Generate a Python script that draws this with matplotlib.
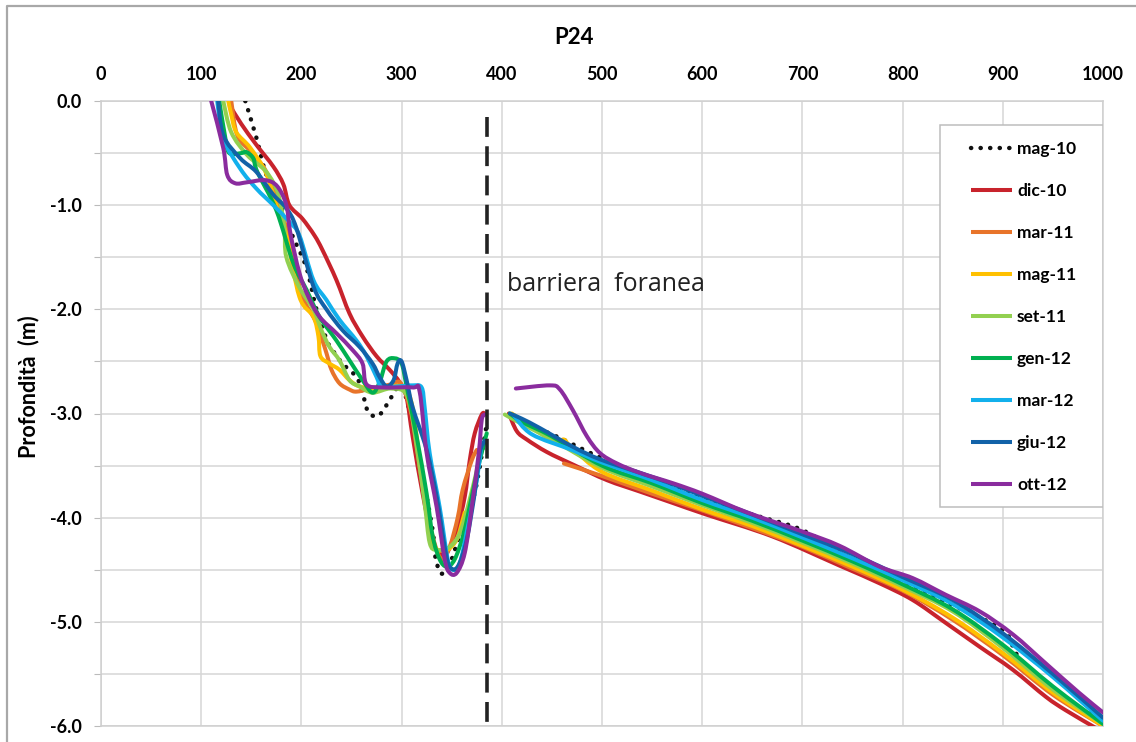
import numpy as np
import matplotlib
matplotlib.use("Agg")
import matplotlib.pyplot as plt
from matplotlib.patches import Rectangle, PathPatch
from matplotlib.lines import Line2D
from matplotlib.path import Path

plt.rcParams["font.family"] = ["Lato", "DejaVu Sans"]

# profili (distanza m, profondita m) - tratto a terra / tratto oltre la barriera
labels = ["mag-10", "dic-10", "mar-11", "mag-11", "set-11", "gen-12", "mar-12", "giu-12", "ott-12"]
colors = ["#111111", "#C8232C", "#E8742A", "#FFC000", "#92D050", "#00B050", "#12B0EC", "#1262A8", "#8A2C9E"]

mag10_x = [144, 155, 164, 175, 190, 205, 215, 226, 231, 241, 255, 261, 266, 274, 281, 290, 300, 311, 321, 331, 333, 338, 343, 350, 360, 373, 385]
mag10_y = [0.0, -0.35, -0.68, -0.9, -1.27, -1.6, -2.0, -2.31, -2.39, -2.52, -2.65, -2.8, -2.97, -3.03, -2.98, -2.84, -2.74, -3.1, -3.6, -4.12, -4.34, -4.52, -4.52, -4.4, -4.1, -3.76, -3.1]
mag10_x2 = [412, 430, 450, 500, 550, 600, 650, 700, 750, 800, 850, 900, 913, 933, 963, 1000]
mag10_y2 = [-3.02, -3.14, -3.2, -3.43, -3.62, -3.82, -3.97, -4.12, -4.4, -4.62, -4.84, -5.08, -5.3, -5.53, -5.75, -5.95]

dic10_x = [129, 140, 155, 172, 182, 188, 201, 213, 221, 235, 248, 261, 275, 288, 298, 305, 311, 321, 331, 338, 345, 355, 363, 368, 373, 380, 383]
dic10_y = [-0.05, -0.22, -0.42, -0.63, -0.8, -1.0, -1.13, -1.29, -1.43, -1.72, -2.04, -2.26, -2.45, -2.58, -2.7, -2.85, -3.22, -3.77, -4.22, -4.34, -4.34, -4.12, -3.8, -3.45, -3.19, -3.01, -3.0]
dic10_x2 = [407, 415, 425, 445, 471, 505, 538, 571, 604, 670, 737, 777, 810, 843, 877, 910, 943, 963, 993]
dic10_y2 = [-3.0, -3.17, -3.25, -3.37, -3.49, -3.64, -3.75, -3.86, -3.97, -4.18, -4.46, -4.63, -4.79, -5.01, -5.24, -5.46, -5.72, -5.85, -6.02]

mar11_x = [130, 136, 150, 165, 178, 190, 200, 215, 221, 225, 230, 238, 248, 255, 270, 290, 300, 311, 321, 331, 340, 348, 356, 361, 370, 375]
mar11_y = [0.0, -0.33, -0.49, -0.68, -1.0, -1.4, -1.85, -2.13, -2.3, -2.42, -2.58, -2.71, -2.77, -2.79, -2.76, -2.72, -2.72, -3.06, -3.7, -4.18, -4.4, -4.28, -4.0, -3.73, -3.45, -3.35]
mar11_x2 = [462, 500, 550, 600, 650, 700, 750, 800, 850, 900, 950, 1000]
mar11_y2 = [-3.48, -3.6, -3.77, -3.93, -4.1, -4.28, -4.49, -4.7, -4.98, -5.32, -5.7, -6.0]

mag11_x = [127, 130, 135, 149, 165, 178, 185, 198, 212, 217, 219, 228, 238, 248, 258, 275, 300, 310, 318, 326, 333, 345, 355, 361, 363]
mag11_y = [0.0, -0.13, -0.3, -0.45, -0.7, -1.1, -1.29, -1.88, -2.07, -2.26, -2.45, -2.52, -2.58, -2.68, -2.74, -2.76, -2.74, -2.9, -3.45, -4.02, -4.28, -4.31, -4.21, -4.02, -3.95]
mag11_x2 = [410, 440, 455, 462, 470, 500, 550, 600, 650, 700, 750, 800, 850, 900, 950, 1000]
mag11_y2 = [-3.0, -3.2, -3.28, -3.25, -3.33, -3.56, -3.74, -3.92, -4.08, -4.27, -4.47, -4.69, -4.96, -5.3, -5.68, -6.0]

set11_x = [122, 130, 146, 165, 177, 183, 185, 198, 212, 220, 228, 238, 248, 258, 271, 290, 306, 315, 323, 328, 335, 348, 358, 366, 376, 381]
set11_y = [0.0, -0.3, -0.52, -0.68, -0.9, -1.22, -1.5, -1.79, -2.0, -2.2, -2.36, -2.49, -2.68, -2.74, -2.8, -2.76, -2.84, -3.32, -3.86, -4.24, -4.31, -4.28, -4.15, -3.9, -3.51, -3.32]
set11_x2 = [403, 420, 450, 500, 550, 600, 650, 700, 750, 800, 850, 900, 950, 1000]
set11_y2 = [-3.01, -3.1, -3.25, -3.52, -3.7, -3.88, -4.05, -4.24, -4.44, -4.66, -4.9, -5.25, -5.65, -5.98]

gen12_x = [118, 124, 128, 140, 145, 152, 156, 175, 192, 205, 218, 235, 248, 261, 271, 278, 285, 293, 300, 305, 315, 325, 331, 338, 345, 353, 362, 370, 378, 385]
gen12_y = [0.0, -0.35, -0.5, -0.5, -0.49, -0.55, -0.68, -1.05, -1.56, -1.81, -2.07, -2.3, -2.49, -2.68, -2.8, -2.7, -2.5, -2.47, -2.52, -2.74, -3.22, -3.77, -4.18, -4.4, -4.47, -4.4, -4.15, -3.8, -3.45, -3.19]
gen12_x2 = [408, 420, 450, 500, 550, 600, 650, 700, 750, 800, 850, 900, 950, 1000]
gen12_y2 = [-3.0, -3.08, -3.22, -3.5, -3.67, -3.86, -4.03, -4.22, -4.42, -4.64, -4.88, -5.22, -5.62, -5.98]

mar12_x = [116, 122, 139, 155, 172, 188, 198, 212, 225, 238, 255, 265, 275, 280, 295, 311, 320, 323, 328, 338, 346, 351, 358, 366, 375, 380]
mar12_y = [0.0, -0.36, -0.65, -0.84, -1.0, -1.16, -1.29, -1.72, -1.91, -2.1, -2.3, -2.45, -2.65, -2.74, -2.74, -2.73, -2.75, -2.94, -3.38, -3.9, -4.4, -4.5, -4.44, -4.09, -3.64, -3.28]
mar12_x2 = [412, 430, 470, 500, 550, 600, 650, 700, 750, 800, 850, 900, 950, 1000]
mar12_y2 = [-3.02, -3.2, -3.35, -3.47, -3.64, -3.83, -4.0, -4.19, -4.39, -4.6, -4.83, -5.15, -5.53, -5.95]

giu12_x = [117, 122, 139, 155, 172, 185, 195, 212, 225, 241, 258, 271, 278, 285, 292, 296, 300, 305, 311, 325, 335, 343, 348, 356, 365, 373, 378, 383]
giu12_y = [0.0, -0.33, -0.55, -0.68, -0.9, -1.03, -1.22, -1.78, -2.0, -2.2, -2.36, -2.52, -2.65, -2.74, -2.68, -2.52, -2.5, -2.68, -2.94, -3.35, -3.8, -4.28, -4.47, -4.47, -4.21, -3.76, -3.38, -3.26]
giu12_x2 = [408, 420, 438, 471, 498, 538, 571, 600, 650, 700, 750, 800, 850, 900, 950, 1000]
giu12_y2 = [-3.0, -3.05, -3.14, -3.32, -3.44, -3.57, -3.68, -3.79, -3.97, -4.16, -4.35, -4.57, -4.79, -5.11, -5.5, -5.92]

ott12_x = [110, 122, 126, 134, 146, 164, 176, 185, 189, 198, 207, 218, 235, 251, 261, 265, 281, 311, 318, 325, 335, 343, 348, 355, 363, 370, 377, 380, 383]
ott12_y = [0.0, -0.45, -0.71, -0.79, -0.78, -0.76, -0.82, -1.0, -1.27, -1.65, -1.88, -2.07, -2.23, -2.39, -2.52, -2.72, -2.75, -2.75, -2.79, -3.38, -3.9, -4.4, -4.53, -4.53, -4.34, -3.9, -3.38, -3.06, -3.01]
ott12_x2 = [414, 448, 458, 471, 485, 498, 515, 538, 571, 600, 645, 699, 737, 777, 810, 843, 877, 910, 943, 976, 1000]
ott12_y2 = [-2.76, -2.73, -2.77, -2.97, -3.22, -3.38, -3.48, -3.57, -3.67, -3.77, -3.95, -4.13, -4.27, -4.47, -4.58, -4.74, -4.9, -5.12, -5.4, -5.68, -5.87]

series = [
    (mag10_x, mag10_y, mag10_x2, mag10_y2),
    (dic10_x, dic10_y, dic10_x2, dic10_y2),
    (mar11_x, mar11_y, mar11_x2, mar11_y2),
    (mag11_x, mag11_y, mag11_x2, mag11_y2),
    (set11_x, set11_y, set11_x2, set11_y2),
    (gen12_x, gen12_y, gen12_x2, gen12_y2),
    (mar12_x, mar12_y, mar12_x2, mar12_y2),
    (giu12_x, giu12_y, giu12_x2, giu12_y2),
    (ott12_x, ott12_y, ott12_x2, ott12_y2),
]

barriera_x = 385


def linea_smussata(x, y):
    # curva tipo "linea smussata" di Excel (Bezier che passa per i punti)
    p = np.column_stack([x, y]).astype(float)
    verts = [p[0]]
    codes = [Path.MOVETO]
    n = len(p)
    for i in range(n - 1):
        p0 = p[i - 1] if i > 0 else p[i]
        p3 = p[i + 2] if i + 2 < n else p[i + 1]
        c1 = p[i] + (p[i + 1] - p0) / 6.0
        c2 = p[i + 1] - (p3 - p[i]) / 6.0
        verts += [c1, c2, p[i + 1]]
        codes += [Path.CURVE4] * 3
    return Path(verts, codes)


fig = plt.figure(figsize=(11.36, 7.42), dpi=100)
ax = fig.add_axes([101 / 1136, 1 - 726 / 742, 1002 / 1136, 625 / 742])

handles = []
for (x1, y1, x2, y2), lab, col in zip(series, labels, colors):
    if lab == "mag-10":
        stile = dict(color=col, lw=3.2, linestyle=(0, (0.05, 2.1)))
    else:
        stile = dict(color=col, lw=2.9, linestyle="-")
    for xx, yy in [(x1, y1), (x2, y2)]:
        pp = PathPatch(linea_smussata(xx, yy), fill=False, edgecolor=stile["color"],
                       lw=stile["lw"], linestyle=stile["linestyle"],
                       capstyle="round", joinstyle="round", zorder=3)
        ax.add_patch(pp)
    handles.append(Line2D([], [], dash_capstyle="round", solid_capstyle="butt", **stile))

# barriera foranea
ax.plot([barriera_x, barriera_x], [-0.15, -5.96], color="#222222", lw=2.6,
        linestyle=(0, (5.5, 2.6)), zorder=4)
ax.text(405, -1.76, "barriera  foranea", fontsize=18, color="#222222",
        family=["Open Sans", "DejaVu Sans"], va="center", ha="left")

ax.set_xlim(0, 1000)
ax.set_ylim(-6, 0)
ax.xaxis.tick_top()
ax.set_xticks(np.arange(0, 1001, 100))
ax.set_xticklabels([str(v) for v in range(0, 1001, 100)], fontweight="bold", fontsize=13)
yt = np.arange(-6, 0.01, 0.5)
ax.set_yticks(yt)
ax.set_yticklabels([f"{v:.1f}" if abs(v - round(v)) < 1e-9 else "" for v in yt],
                   fontweight="bold", fontsize=13)
ax.tick_params(axis="x", length=0, pad=13)
ax.tick_params(axis="y", length=5, color="#BBBBBB", pad=9)
ax.grid(True, color="#D6D6D6", lw=1.1)
ax.set_axisbelow(True)
for s in ax.spines.values():
    s.set_color("#CFCFCF")
    s.set_linewidth(1.1)

# riquadro legenda
ax.add_patch(Rectangle((839 / 1002, 1 - 406 / 625), 163 / 1002, 382 / 625,
                       transform=ax.transAxes, facecolor="white",
                       edgecolor="#BDBDBD", lw=1.1, zorder=6))
leg = ax.legend(handles, labels, loc="center left", bbox_to_anchor=(870 / 1002, 1 - 216 / 625),
                frameon=False, prop={"weight": "bold", "size": 12.5},
                labelspacing=1.5, handlelength=2.35, handletextpad=0.3,
                borderpad=0, borderaxespad=0)
leg.set_zorder(7)

fig.text(574 / 1136, 1 - 38 / 742, "P24", fontweight="bold", fontsize=16,
         ha="center", va="center")
fig.text(29 / 1136, 1 - 387 / 742, "Profondità  (m)", fontweight="bold", fontsize=15.5,
         rotation=90, ha="center", va="center")

# cornice esterna
fig.add_artist(Line2D([7 / 1136, 7 / 1136, 1.0], [0.0, 1 - 6 / 742, 1 - 6 / 742],
                      transform=fig.transFigure, color="#A8A8A8", lw=1.6))

fig.savefig("out.png", dpi=100)
